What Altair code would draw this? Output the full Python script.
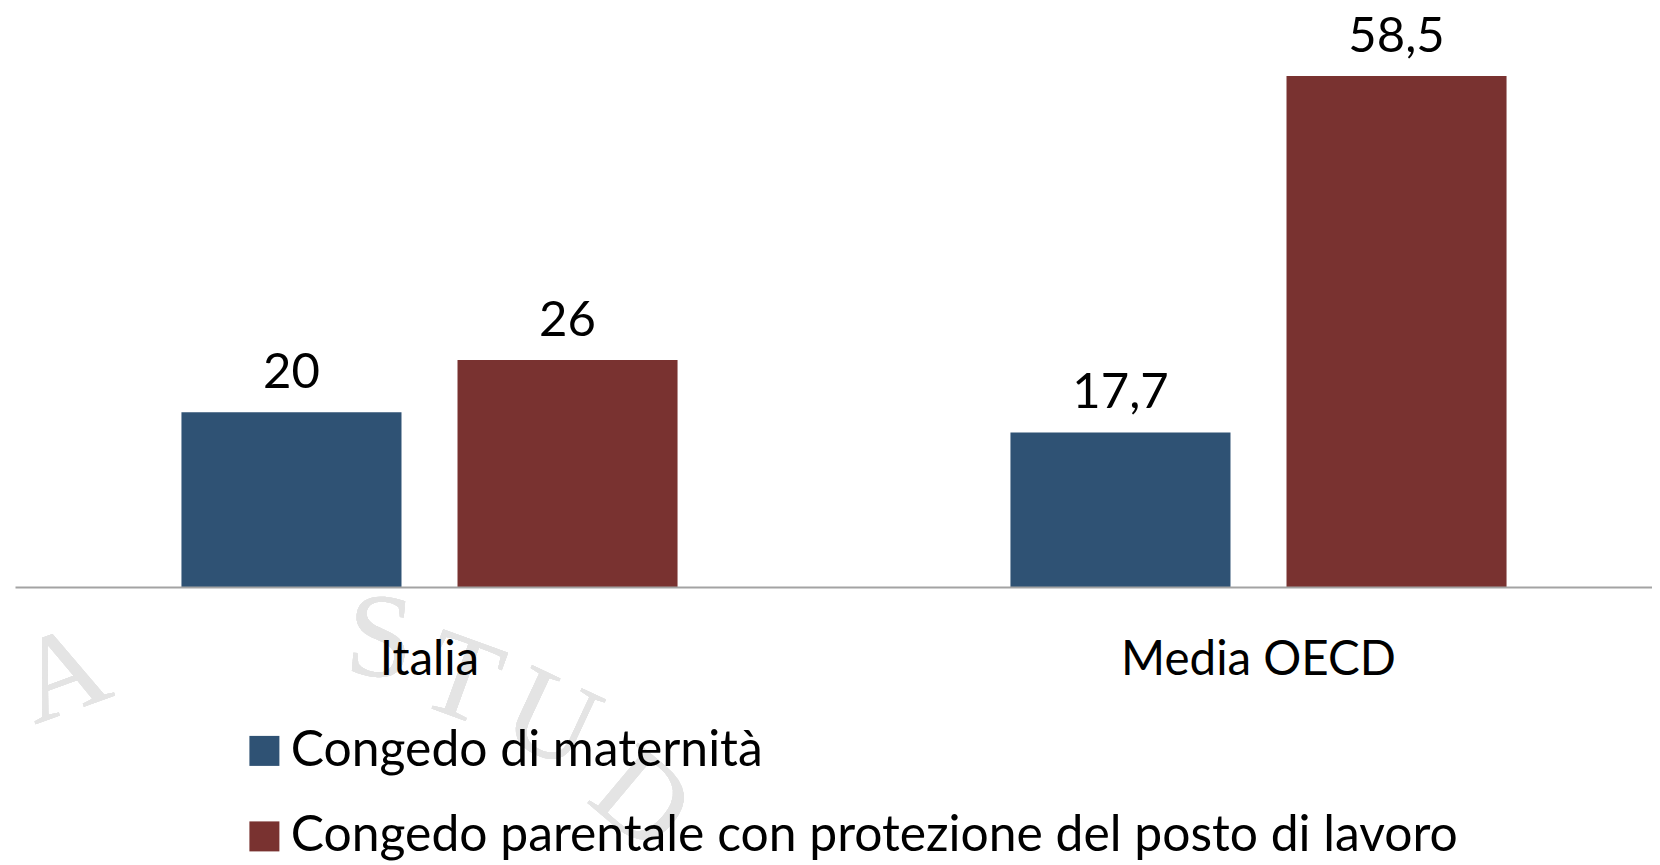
import altair as alt
import pandas as pd

groups = ["Italia", "Italia", "Media OECD", "Media OECD"]
series = ["Congedo di maternità", "Congedo parentale con protezione del posto di lavoro"] * 2
values = [20, 26, 17.7, 58.5]
labels = ["20", "26", "17,7", "58,5"]
colors = ["#2F5274", "#793230"]
df = pd.DataFrame({"g": groups, "s": series, "v": values, "l": labels})

FONT = "Lato"

x = alt.X("g:N", title=None, sort=["Italia", "Media OECD"],
          scale=alt.Scale(range=[0, 1658], paddingInner=0, paddingOuter=0),
          axis=alt.Axis(labelAngle=0, labelFontSize=47.5, labelFont=FONT, labelColor="#000000",
                        domainColor="#a3a3a3", domainWidth=2, ticks=False, labelPadding=49,
                        labelLimit=600, grid=False, zindex=1))
y = alt.Y("v:Q", title=None, scale=alt.Scale(domain=[0, 58.5], nice=False), axis=None)
xo = alt.XOffset("s:N", scale=alt.Scale(range=[0, 829], paddingInner=0.2029, paddingOuter=0.603))


def wm(letter, px, py, angle):
    return alt.Chart(df).mark_text(text=letter, font="Liberation Serif", fontSize=120, angle=angle,
                                   color="#e4e4e4", align="center", baseline="middle").encode(
        x=alt.value(px), y=alt.value(py))


watermark = [wm("A", 48, 600, 340), wm("S", 365, 564, 5), wm("T", 446, 605, 20),
             wm("U", 536, 645, 25), wm("D", 626, 725, 40)]

bars = alt.Chart(df).mark_bar().encode(
    x=x, xOffset=xo, y=y,
    color=alt.Color("s:N", scale=alt.Scale(range=colors),
                    legend=alt.Legend(title=None, orient="none", legendX=224.5, legendY=650,
                                      labelFontSize=49.8, labelFont=FONT, labelColor="#000000",
                                      symbolType="square", symbolSize=900, symbolStrokeWidth=0,
                                      symbolOpacity=1, labelOffset=1.5,
                                      labelLimit=1300, rowPadding=34.5)),
)
text = alt.Chart(df).mark_text(dy=-39, fontSize=49, font=FONT, color="#000000").encode(
    x=x, xOffset=xo, y=y, text="l:N")

chart = alt.layer(*watermark, bars, text).properties(
    width=1637, height=511,
    autosize=alt.AutoSizeParams(type="none"),
    padding={"left": 7, "top": 68, "right": 0, "bottom": 278},
    background="#ffffff",
).configure_view(stroke=None)
chart.save("out.html", embed_options={"renderer": "svg", "actions": False})
